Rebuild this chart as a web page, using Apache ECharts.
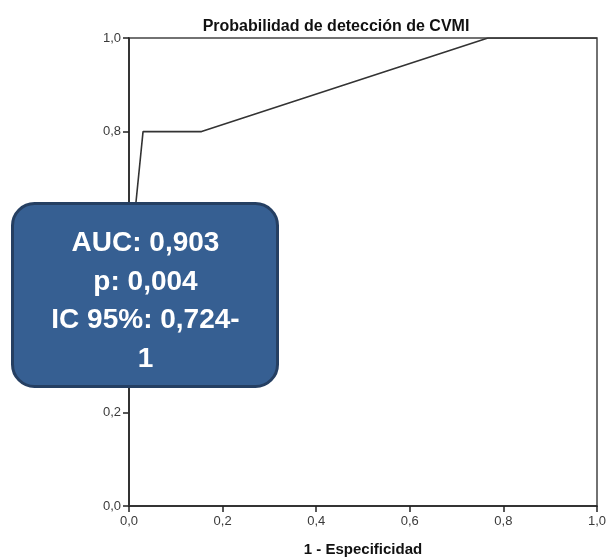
<!DOCTYPE html>
<html>
<head>
<meta charset="utf-8">
<script src="https://cdn.jsdelivr.net/npm/echarts@6/dist/echarts.min.js"></script>
<style>html,body{margin:0;padding:0;background:#fff}#c{width:608px;height:558px}</style>
</head>
<body>
<div id="c"></div>
<script>
const fpr = [0, 0, 0.03, 0.155, 0.767, 1];
const tpr = [0, 0.5, 0.8, 0.8, 1, 1];
const tickLabels = ['0,0','0,2','0,4','0,6','0,8','1,0'];
const title = 'Probabilidad de detección de CVMI';
const xName = '1 - Especificidad';
const boxLines = ['AUC: 0,903', 'p: 0,004', 'IC 95%: 0,724-', '1'];

const chart = echarts.init(document.getElementById('c'), null, {renderer: 'canvas'});
const fmt = v => tickLabels[Math.round(v * 5)];
const axisCommon = {
  type: 'value', min: 0, max: 1, interval: 0.2,
  axisLine: {show: true, lineStyle: {color: '#222', width: 1.5}},
  axisTick: {show: true, inside: false, length: 6, lineStyle: {color: '#222', width: 1.5}},
  axisLabel: {formatter: fmt, color: '#3a3a3a', fontSize: 13, margin: 8, fontFamily: 'Liberation Sans, Arial, sans-serif'},
  splitLine: {show: false}
};
chart.setOption({
  animation: false,
  title: {
    text: title, left: 331, textAlign: 'center', top: 14,
    textStyle: {fontSize: 16, fontWeight: 'bold', color: '#111', fontFamily: 'Liberation Sans, Arial, sans-serif'}
  },
  grid: {left: 129, right: 11, top: 38, bottom: 52, show: true, borderColor: '#444', borderWidth: 1.5,
         containLabel: false, outerBoundsMode: 'none'},
  xAxis: Object.assign({}, axisCommon, {
    name: xName, nameLocation: 'middle', nameGap: 36,
    nameTextStyle: {fontSize: 15, fontWeight: 'bold', color: '#111', fontFamily: 'Liberation Sans, Arial, sans-serif'},
    axisLabel: Object.assign({}, axisCommon.axisLabel, {margin: 9})
  }),
  yAxis: Object.assign({}, axisCommon),
  series: [{
    type: 'line', symbol: 'none',
    data: fpr.map((x, i) => [x, tpr[i]]),
    lineStyle: {color: '#333', width: 1.6}
  }],
  graphic: [{
    type: 'group', left: 11, top: 202, z: 100,
    children: [{
      type: 'rect', shape: {x: 0, y: 0, width: 265, height: 183, r: 22}, z: 100,
      style: {fill: '#365f92', stroke: '#253f62', lineWidth: 3}
    }, {
      type: 'text', x: 133, y: 98, z: 101,
      style: {
        text: boxLines.join('\n'), fill: '#fff', align: 'center', verticalAlign: 'middle',
        font: 'bold 28px "Liberation Sans", Arial, sans-serif', lineHeight: 38.5
      }
    }]
  }]
});
</script>
</body>
</html>
